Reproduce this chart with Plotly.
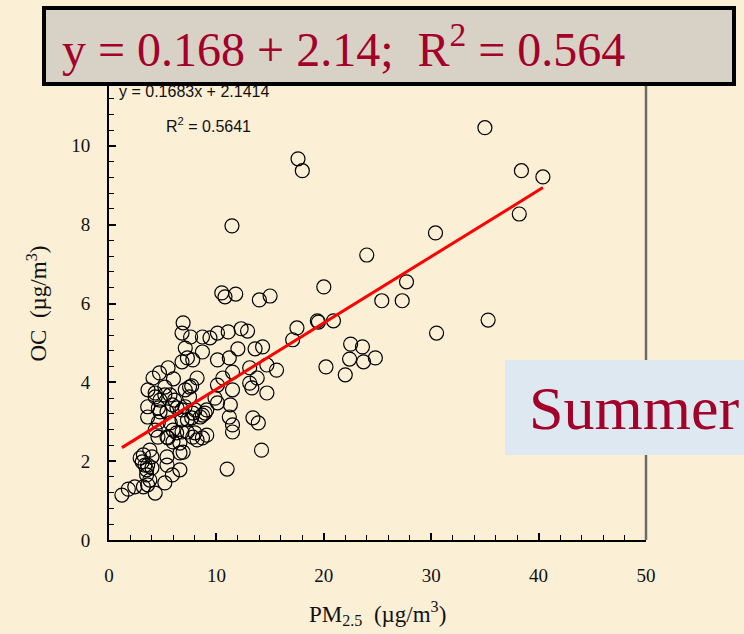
import plotly.graph_objects as go

# PM2.5 and OC concentrations (µg/m3), summer samples
pm25 = [35.0, 17.6, 18.0, 38.4, 40.4, 38.2, 11.45, 30.4, 24.0, 27.7, 20.0, 25.4, 27.3, 35.3, 30.5,
        10.5, 10.8, 11.8, 14.0, 15.0, 17.5, 17.1, 19.4, 19.5, 20.9, 22.5, 23.6, 22.4, 23.7, 24.8,
        20.2, 22.0, 6.9, 6.8, 7.6, 8.7, 9.4, 10.1, 11.1, 12.3, 12.9, 7.1, 7.3, 7.8, 8.7, 12.0,
        13.6, 14.3, 10.1, 11.2, 14.7, 15.6, 13.1, 11.5, 10.6, 8.2, 13.8, 13.1, 13.3, 11.5, 10.1,
        14.7, 7.5, 10.1, 9.1, 11.3, 11.2, 11.5, 11.5, 13.4, 13.9, 9.1, 14.2, 11.0, 6.6, 7.5, 7.8,
        8.5, 7.3, 8.0, 8.2, 7.8, 6.8, 6.6, 6.9, 5.5, 4.7, 4.1, 6.0, 5.2, 4.3, 7.1, 7.7, 6.8, 4.3,
        5.2, 6.1, 3.6, 4.6, 5.9, 6.8, 8.0, 8.7, 3.6, 4.6, 5.7, 6.8, 7.7, 4.3, 5.4, 6.3, 7.3, 8.7,
        3.2, 2.9, 3.1, 3.8, 4.0, 3.6, 3.5, 3.5, 5.4, 5.4, 5.9, 3.8, 3.6, 3.2, 2.4, 1.8, 1.2, 4.3,
        5.2, 5.4, 4.75, 6.33, 7.08, 8.94, 5.96, 4.56, 5.49, 5.96, 6.61, 4.0, 3.35, 3.63, 4.75,
        5.68, 9.87]
oc = [10.46, 9.67, 9.37, 9.37, 9.21, 8.27, 7.97, 7.79, 7.23, 6.55, 6.42, 6.07, 6.07, 5.58, 5.25,
      6.27, 6.17, 6.24, 6.09, 6.19, 5.38, 5.08, 5.56, 5.53, 5.56, 4.97, 4.90, 4.59, 4.52, 4.62,
      4.39, 4.19, 5.51, 5.25, 5.15, 5.15, 5.13, 5.25, 5.28, 5.36, 5.30, 4.87, 4.62, 4.57, 4.77, 4.85,
      4.85, 4.90, 4.57, 4.62, 4.44, 4.31, 4.37, 4.26, 4.11, 4.11, 4.11, 3.98, 3.86, 3.81, 3.93,
      3.73, 3.88, 3.48, 3.30, 3.43, 3.12, 2.92, 2.74, 3.10, 2.97, 2.66, 2.28, 1.80, 1.78, 3.63, 3.22,
      3.12, 3.05, 2.72, 2.54, 2.61, 2.74, 2.46, 2.23, 4.37, 4.24, 4.11, 4.09, 3.88, 3.73, 3.81, 3.91, 4.52, 3.63,
      3.68, 3.55, 3.38, 3.35, 3.43, 3.30, 3.30, 3.17, 3.12, 2.99, 2.97, 3.05, 3.10, 2.79, 2.61, 2.72, 2.74, 2.59,
      2.16, 2.08, 1.98, 2.28, 2.11, 1.90, 1.78, 1.65, 2.11, 1.90, 1.65, 1.52, 1.40, 1.35, 1.35, 1.29, 1.14, 1.19,
      1.45, 3.25, 3.25, 3.35, 3.38, 3.22, 2.79, 2.61, 2.59, 2.49, 2.21, 1.83, 1.90, 3.81, 3.55,
      3.68, 3.60]

slope = 0.1683
intercept = 2.1414
r2 = 0.5641

x_ticks = [0, 10, 20, 30, 40, 50]
y_ticks = [0, 2, 4, 6, 8, 10]

W, H = 744, 634
L, R, T, B = 109, 98, 67, 94
BG = "#fbefd6"
DARK_RED = "#a3002a"
SERIF = "Liberation Serif, Times New Roman, serif"
SANS = "Liberation Sans, Arial, sans-serif"


def px_x(p):
    return (p - L) / (W - L - R)


def px_y(p):
    return (H - B - p) / (H - T - B)


x_fit = [min(pm25), max(pm25)]
y_fit = [slope * v + intercept for v in x_fit]

fig = go.Figure()
fig.add_trace(go.Scatter(
    x=pm25, y=oc, mode="markers",
    marker=dict(symbol="circle-open", size=14, color="black", line=dict(width=1.2)),
    showlegend=False, hoverinfo="skip"))
fig.add_trace(go.Scatter(
    x=x_fit, y=y_fit, mode="lines", line=dict(color="#ff0000", width=3),
    showlegend=False, hoverinfo="skip"))

fig.update_layout(
    width=W, height=H, margin=dict(l=L, r=R, t=T, b=B),
    paper_bgcolor=BG, plot_bgcolor=BG,
    font=dict(family=SERIF, color="#111111"),
    xaxis=dict(range=[0, 50], tickvals=x_ticks, ticks="inside", ticklen=7, tickwidth=1.5,
               tickcolor="black", showgrid=False, zeroline=False, showline=True,
               linecolor="black", linewidth=2, tickfont=dict(size=19, family=SERIF),
               ticklabelstandoff=17,
               minor=dict(dtick=2, ticks="inside", ticklen=5, tickcolor="black", tickwidth=1, showgrid=False)),
    yaxis=dict(range=[0, 12], tickvals=y_ticks, ticks="inside", ticklen=7, tickwidth=1.5,
               tickcolor="black", showgrid=False, zeroline=False, showline=True,
               linecolor="black", linewidth=2, tickfont=dict(size=19, family=SERIF),
               ticklabelstandoff=13,
               minor=dict(dtick=0.4, ticks="inside", ticklen=5, tickcolor="black", tickwidth=1, showgrid=False)),
)

# right frame edge
fig.add_shape(type="line", xref="paper", yref="paper", x0=1, x1=1, y0=0, y1=1,
              line=dict(color="#6e6a66", width=2.5), layer="above")
# season label box
fig.add_shape(type="rect", xref="paper", yref="paper",
              x0=px_x(505), x1=px_x(746), y0=px_y(455), y1=px_y(360),
              fillcolor="#dde8f1", line=dict(width=0), layer="above")
fig.add_annotation(xref="paper", yref="paper", x=px_x(634), y=px_y(408),
                   xanchor="center", yanchor="middle",
                   text="Summer", showarrow=False,
                   font=dict(family=SERIF, size=62, color=DARK_RED))

# axis titles
fig.add_annotation(xref="paper", yref="paper", x=0.5, y=px_y(613),
                   xanchor="center", yanchor="middle",
                   text="PM<sub>2.5</sub>\u00a0\u00a0(µg/m<sup>3</sup>)", showarrow=False,
                   font=dict(family=SERIF, size=23, color="#111111"))
fig.add_annotation(xref="paper", yref="paper", x=px_x(37), y=0.5, textangle=-90,
                   xanchor="center", yanchor="middle",
                   text="OC\u00a0\u00a0(µg/m<sup>3</sup>)", showarrow=False,
                   font=dict(family=SERIF, size=23, color="#111111"))

# fitted equation inside the plot (partly tucked under the headline box)
fig.add_annotation(xref="paper", yref="paper", x=px_x(117), y=px_y(91),
                   xanchor="left", yanchor="middle",
                   text=f"y = {slope}x + {intercept}", showarrow=False,
                   font=dict(family=SANS, size=16, color="#111111"))
fig.add_annotation(xref="paper", yref="paper", x=px_x(164), y=px_y(125),
                   xanchor="left", yanchor="middle",
                   text=f"R<sup>2</sup> = {r2}", showarrow=False,
                   font=dict(family=SANS, size=16, color="#111111"))

# headline equation box
fig.add_annotation(xref="paper", yref="paper", x=px_x(42), y=px_y(6), xanchor="left", yanchor="top",
                   width=686, height=72, align="left", valign="middle", borderpad=0,
                   text=f"\u00a0\u200ay = {round(slope, 3)} + {round(intercept, 2)};\u00a0\u00a0R<sup>2</sup> = {round(r2, 3)}",
                   showarrow=False, bgcolor="#d8d1c5", bordercolor="black", borderwidth=4,
                   font=dict(family=SERIF, size=48, color=DARK_RED))

fig.write_html("out.html")
